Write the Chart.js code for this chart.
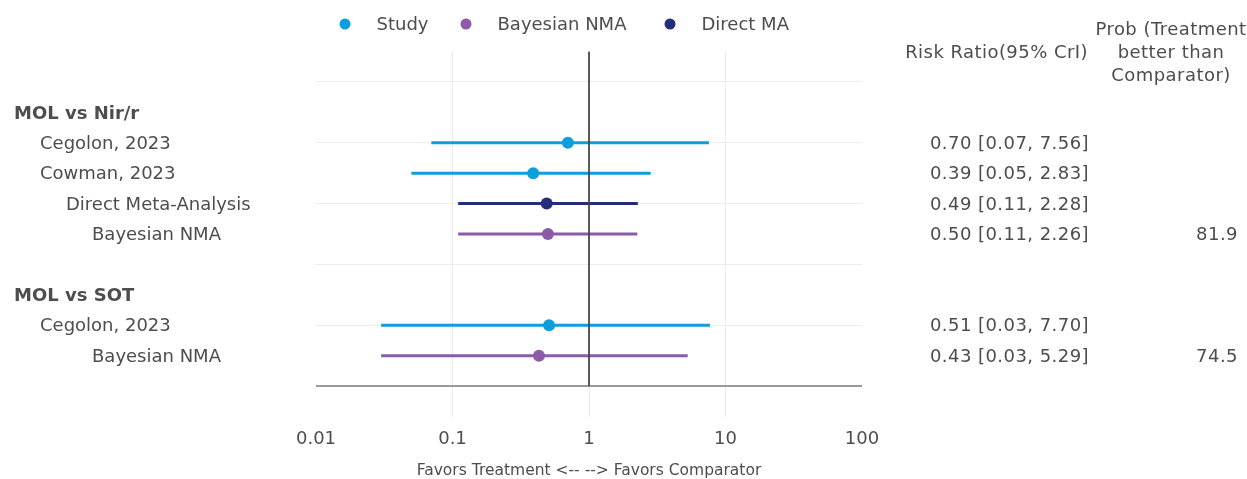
<!DOCTYPE html>
<html>
<head>
<meta charset="utf-8">
<script src="https://cdn.jsdelivr.net/npm/chart.js@4.4.1/dist/chart.umd.min.js"></script>
<style>
  html, body { margin: 0; padding: 0; background: #fff; }
  #wrap { width: 1247px; height: 479px; position: relative; }
</style>
</head>
<body>
<div id="wrap"><canvas id="forest" width="1247" height="479"></canvas></div>
<script>
// Row layout (row index counted from the top of the plot)
const rowLabels = ['MOL vs Nir/r', 'Cegolon, 2023', 'Cowman, 2023', 'Direct Meta-Analysis', 'Bayesian NMA', 'MOL vs SOT', 'Cegolon, 2023', 'Bayesian NMA'];
const rowIndex  = [2, 3, 4, 5, 6, 8, 9, 10];
const rowLevel  = [0, 1, 1, 2, 3, 0, 1, 3];

// Individual studies
const studyRows = [3, 4, 9];
const studyEst  = [0.70, 0.39, 0.51];
const studyLo   = [0.07, 0.05, 0.03];
const studyHi   = [7.56, 2.83, 7.70];

// Bayesian network meta-analysis
const nmaRows = [6, 10];
const nmaEst  = [0.50, 0.43];
const nmaLo   = [0.11, 0.03];
const nmaHi   = [2.26, 5.29];

// Direct (pairwise) meta-analysis
const directRows = [5];
const directEst  = [0.49];
const directLo   = [0.11];
const directHi   = [2.28];

// Probability that treatment is better than comparator (%)
const probRows   = [6, 10];
const probValues = ['81.9', '74.5'];

// Axis ticks
const xTickValues = [0.01, 0.1, 1, 10, 100];
const xTickLabels = ['0.01', '0.1', '1', '10', '100'];

const COLORS = { study: '#0d9edc', nma: '#8d5aa7', direct: '#242f7c' };
const FONT = '"DejaVu Sans", Verdana, sans-serif';
const TEXT = '#4d4d4d';

const fmt = v => v.toFixed(2);

function ciDatasets(rows, lo, hi, color) {
  return rows.map((r, i) => ({
    type: 'line',
    data: [{ x: lo[i], y: r }, { x: hi[i], y: r }],
    borderColor: color,
    borderWidth: 3,
    pointRadius: 0,
    order: 3
  }));
}
function pointDataset(name, rows, est, color) {
  return {
    type: 'scatter',
    label: name,
    data: rows.map((r, i) => ({ x: est[i], y: r })),
    backgroundColor: color,
    borderWidth: 0,
    pointRadius: 6,
    pointHoverRadius: 6,
    order: 0
  };
}

const datasets = [
  pointDataset('Study', studyRows, studyEst, COLORS.study),
  pointDataset('Bayesian NMA', nmaRows, nmaEst, COLORS.nma),
  pointDataset('Direct MA', directRows, directEst, COLORS.direct),
  // line of no effect
  {
    type: 'line',
    data: [{ x: 1, y: 0 }, { x: 1, y: 11 }],
    borderColor: '#444',
    borderWidth: 1,
    pointRadius: 0,
    order: 1
  },
  ...ciDatasets(studyRows, studyLo, studyHi, COLORS.study),
  ...ciDatasets(nmaRows, nmaLo, nmaHi, COLORS.nma),
  ...ciDatasets(directRows, directLo, directHi, COLORS.direct)
];

// Row labels, estimate text, column headers and legend
const annotate = {
  id: 'annotate',
  afterDraw(chart) {
    const ctx = chart.ctx;
    const y = chart.scales.y;
    const rowY = r => y.getPixelForValue(r) + 1.5;
    ctx.save();
    ctx.fillStyle = TEXT;
    ctx.textBaseline = 'middle';

    // row labels
    const indent = [14, 40, 66, 92];
    rowLabels.forEach((lab, i) => {
      ctx.font = (rowLevel[i] === 0 ? 'bold ' : '') + '18px ' + FONT;
      ctx.textAlign = 'left';
      ctx.fillText(lab, indent[rowLevel[i]], rowY(rowIndex[i]));
    });

    // estimate [CrI] column
    ctx.font = '18px ' + FONT;
    ctx.letterSpacing = '0.45px';
    ctx.textAlign = 'right';
    const rr = [];
    studyRows.forEach((r, i) => rr.push([r, studyEst[i], studyLo[i], studyHi[i]]));
    nmaRows.forEach((r, i) => rr.push([r, nmaEst[i], nmaLo[i], nmaHi[i]]));
    directRows.forEach((r, i) => rr.push([r, directEst[i], directLo[i], directHi[i]]));
    rr.forEach(([r, e, l, h]) => {
      ctx.fillText(fmt(e) + ' [' + fmt(l) + ', ' + fmt(h) + ']', 1089, rowY(r));
    });
    probRows.forEach((r, i) => ctx.fillText(probValues[i], 1238, rowY(r)));

    // column headers
    ctx.fillText('Risk Ratio(95% CrI)', 1088, 53);
    ctx.textAlign = 'center';
    ['Prob (Treatment', 'better than', 'Comparator)'].forEach((t, k) => ctx.fillText(t, 1171, 30 + 23 * k));
    ctx.letterSpacing = '0px';

    // legend
    ctx.textAlign = 'left';
    const legendX = [345, 466, 670];
    datasets.slice(0, 3).forEach((ds, k) => {
      const lx = legendX[k];
      ctx.fillStyle = ds.backgroundColor;
      ctx.beginPath();
      ctx.arc(lx, 24, 5.5, 0, Math.PI * 2);
      ctx.fill();
      ctx.fillStyle = TEXT;
      ctx.fillText(ds.label, lx + 31.5, 25);
    });
    ctx.restore();
  }
};

new Chart(document.getElementById('forest'), {
  data: { datasets },
  options: {
    responsive: false,
    animation: false,
    events: [],
    layout: { padding: { left: 316, right: 385, top: 51.5, bottom: 0 } },
    plugins: { legend: { display: false }, tooltip: { enabled: false } },
    scales: {
      x: {
        type: 'logarithmic',
        min: 0.01,
        max: 100,
        afterBuildTicks: s => { s.ticks = xTickValues.map(v => ({ value: v })); },
        afterFit: s => { s.height = 479 - 51.5 - 365; },
        ticks: {
          autoSkip: false,
          maxRotation: 0,
          padding: 12,
          color: TEXT,
          font: { family: FONT, size: 18 },
          callback: v => xTickLabels[xTickValues.indexOf(v)]
        },
        grid: {
          drawTicks: false,
          color: c => (c.tick && (c.tick.value === 0.1 || c.tick.value === 1 || c.tick.value === 10)) ? '#ebebeb' : 'rgba(0,0,0,0)',
          lineWidth: 1
        },
        border: { display: false },
        title: {
          display: true,
          text: 'Favors Treatment <-- --> Favors Comparator',
          color: TEXT,
          font: { family: FONT, size: 15.5 },
          padding: { top: 0, bottom: -1.5 }
        }
      },
      y: {
        type: 'linear',
        min: 0,
        max: 12,
        reverse: true,
        afterFit: s => { s.width = 0; },
        ticks: { display: false, stepSize: 1 },
        grid: {
          drawTicks: false,
          color: c => {
            const v = c.tick ? c.tick.value : -1;
            if (v === 11) return '#9a9a9a';
            return [1, 3, 5, 7, 9].includes(v) ? '#ededed' : 'rgba(0,0,0,0)';
          },
          lineWidth: c => (c.tick && c.tick.value === 11) ? 2 : 1
        },
        border: { display: false }
      }
    }
  },
  plugins: [annotate]
});
</script>
</body>
</html>
